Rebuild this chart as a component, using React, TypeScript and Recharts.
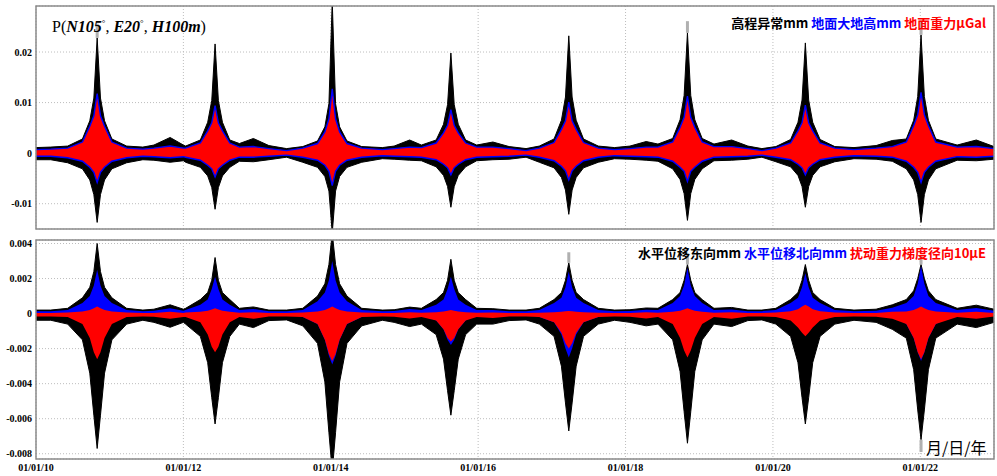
import { ComposedChart, Area, XAxis, YAxis, CartesianGrid, ReferenceArea, ReferenceLine } from 'recharts'

// time in days, dense around each peak
const days = [
  10.0, 10.2,
  10.43, 10.63, 10.73, 10.785, 10.83, 10.875, 10.93, 11.03, 11.23,
  11.45, 11.6, 11.82, 12.0,
  12.03, 12.23, 12.33, 12.385, 12.43, 12.475, 12.53, 12.63,
  12.76, 12.95, 13.16, 13.4,
  13.62, 13.82, 13.92, 13.975, 14.02, 14.065, 14.12, 14.22, 14.42,
  14.7, 14.86, 15.07, 15.23,
  15.43, 15.53, 15.585, 15.63, 15.675, 15.73, 15.83,
  15.98, 16.2, 16.42, 16.65,
  16.83, 17.03, 17.13, 17.185, 17.23, 17.275, 17.33, 17.43, 17.63,
  17.85, 18.06, 18.28, 18.44,
  18.64, 18.74, 18.795, 18.84, 18.885, 18.94, 19.04,
  19.2, 19.44, 19.66, 19.85,
  20.04, 20.24, 20.34, 20.395, 20.44, 20.485, 20.54, 20.64, 20.84,
  21.1, 21.4, 21.62,
  21.81, 21.91, 21.965, 22.01, 22.055, 22.11, 22.21,
  22.5, 22.76, 23.0
]

// upper panel: 高程异常 (black envelope)
const topBlackHi = [
  0.0011, 0.0012,
  0.0014, 0.0028, 0.0064, 0.0109, 0.0228, 0.0109, 0.0064, 0.0028, 0.0014,
  0.0012, 0.0016, 0.0031, 0.0016,
  0.0014, 0.0026, 0.0061, 0.0104, 0.0216, 0.0104, 0.0061, 0.0026,
  0.0019, 0.0029, 0.0015, 0.0009,
  0.0013, 0.0024, 0.0052, 0.0098, 0.0300, 0.0098, 0.0052, 0.0024, 0.0013,
  0.0011, 0.0014, 0.0026, 0.0016,
  0.0026, 0.0057, 0.0096, 0.0198, 0.0096, 0.0057, 0.0026,
  0.0016, 0.0022, 0.0013, 0.0009,
  0.0014, 0.0028, 0.0065, 0.0111, 0.0232, 0.0111, 0.0065, 0.0028, 0.0014,
  0.0011, 0.0014, 0.0023, 0.0018,
  0.0029, 0.0066, 0.0114, 0.0238, 0.0114, 0.0066, 0.0029,
  0.0018, 0.0026, 0.0014, 0.0009,
  0.0013, 0.0027, 0.0061, 0.0105, 0.0218, 0.0105, 0.0061, 0.0027, 0.0013,
  0.0011, 0.0015, 0.0025,
  0.0028, 0.0065, 0.0112, 0.0234, 0.0112, 0.0065, 0.0028,
  0.0016, 0.0026, 0.0013
]
const topBlackLo = [
  -0.0013, -0.0013,
  -0.0019, -0.0031, -0.0053, -0.0082, -0.0137, -0.0082, -0.0053, -0.0031, -0.0019,
  -0.0013, -0.0014, -0.0018, -0.0015,
  -0.0018, -0.0028, -0.0045, -0.0068, -0.0111, -0.0068, -0.0045, -0.0028,
  -0.0016, -0.0017, -0.0013, -0.0008,
  -0.0018, -0.0028, -0.0046, -0.0075, -0.0158, -0.0075, -0.0046, -0.0028, -0.0018,
  -0.0011, -0.0012, -0.0014, -0.0015,
  -0.0027, -0.0044, -0.0066, -0.0107, -0.0066, -0.0044, -0.0027,
  -0.0015, -0.0013, -0.0012, -0.0008,
  -0.0018, -0.0029, -0.0048, -0.0073, -0.0121, -0.0073, -0.0048, -0.0029, -0.0018,
  -0.0011, -0.0012, -0.0014, -0.0016,
  -0.0031, -0.0052, -0.008, -0.0133, -0.008, -0.0052, -0.0031,
  -0.0015, -0.0014, -0.0012, -0.0008,
  -0.0017, -0.0027, -0.0044, -0.0066, -0.0107, -0.0066, -0.0044, -0.0027, -0.0017,
  -0.0011, -0.0012, -0.0016,
  -0.0031, -0.0053, -0.0082, -0.0137, -0.0082, -0.0053, -0.0031,
  -0.0014, -0.0015, -0.0012
]
// upper panel: 地面重力 (red) outlined by 地面大地高 (blue)
const topRedHi = [
  0.0007, 0.0008,
  0.001, 0.0022, 0.0053, 0.0074, 0.0118, 0.0074, 0.0053, 0.0022, 0.001,
  0.0008, 0.001, 0.0014, 0.001,
  0.001, 0.002, 0.0044, 0.006, 0.0094, 0.006, 0.0044, 0.002,
  0.0012, 0.0013, 0.0009, 0.0005,
  0.001, 0.0019, 0.0042, 0.0068, 0.0127, 0.0068, 0.0042, 0.0019, 0.001,
  0.0007, 0.0009, 0.0012, 0.0011,
  0.002, 0.004, 0.0055, 0.0086, 0.0055, 0.004, 0.002,
  0.0012, 0.0012, 0.0009, 0.0005,
  0.001, 0.0021, 0.0047, 0.0064, 0.0101, 0.0064, 0.0047, 0.0021, 0.001,
  0.0007, 0.0009, 0.0012, 0.0012,
  0.0022, 0.0051, 0.0071, 0.0113, 0.0071, 0.0051, 0.0022,
  0.0013, 0.0013, 0.0009, 0.0005,
  0.001, 0.002, 0.0044, 0.006, 0.0095, 0.006, 0.0044, 0.002, 0.001,
  0.0007, 0.001, 0.0013,
  0.0022, 0.0054, 0.0076, 0.012, 0.0076, 0.0054, 0.0022,
  0.0012, 0.0013, 0.0009
]
const topRedLo = [
  -0.0006, -0.0006,
  -0.0009, -0.0016, -0.0028, -0.0038, -0.0058, -0.0038, -0.0028, -0.0016, -0.0009,
  -0.0006, -0.0007, -0.0009, -0.0007,
  -0.0008, -0.0014, -0.0024, -0.0031, -0.0047, -0.0031, -0.0024, -0.0014,
  -0.0008, -0.0008, -0.0006, -0.0004,
  -0.0008, -0.0014, -0.0024, -0.0036, -0.0064, -0.0036, -0.0024, -0.0014, -0.0008,
  -0.0005, -0.0006, -0.0007, -0.0008,
  -0.0013, -0.0022, -0.0029, -0.0043, -0.0029, -0.0022, -0.0013,
  -0.0008, -0.0007, -0.0006, -0.0004,
  -0.0008, -0.0015, -0.0026, -0.0035, -0.0053, -0.0035, -0.0026, -0.0015, -0.0008,
  -0.0005, -0.0006, -0.0007, -0.0008,
  -0.0016, -0.0028, -0.0036, -0.0056, -0.0036, -0.0028, -0.0016,
  -0.0008, -0.0007, -0.0006, -0.0004,
  -0.0008, -0.0013, -0.0022, -0.0029, -0.0043, -0.0029, -0.0022, -0.0013, -0.0008,
  -0.0005, -0.0006, -0.0008,
  -0.0016, -0.0028, -0.0038, -0.0058, -0.0038, -0.0028, -0.0016,
  -0.0007, -0.0008, -0.0006
]

// lower panel: 水平位移东向 (black)
const botBlackHi = [
  0.0002, 0.0002,
  0.0003, 0.0009, 0.0015, 0.0024, 0.004, 0.0024, 0.0015, 0.0009, 0.0003,
  0.0002, 0.00025, 0.0005, 0.00025,
  0.0003, 0.0008, 0.0012, 0.0019, 0.0032, 0.0019, 0.0012, 0.0008,
  0.0003, 0.00038, 0.0002, 0.0002,
  0.0003, 0.001, 0.0017, 0.0028, 0.0046, 0.0028, 0.0017, 0.001, 0.0003,
  0.0002, 0.00022, 0.00037, 0.0003,
  0.0008, 0.0012, 0.0019, 0.0031, 0.0019, 0.0012, 0.0008,
  0.0003, 0.00028, 0.0002, 0.0002,
  0.0003, 0.0008, 0.0012, 0.0019, 0.0029, 0.0019, 0.0012, 0.0008, 0.0003,
  0.0002, 0.00022, 0.00032, 0.0003,
  0.0008, 0.0012, 0.0019, 0.0028, 0.0019, 0.0012, 0.0008,
  0.0003, 0.00035, 0.0002, 0.0002,
  0.0003, 0.0008, 0.0012, 0.0019, 0.0028, 0.0019, 0.0012, 0.0008, 0.0003,
  0.0002, 0.00025, 0.0005,
  0.0008, 0.0013, 0.002, 0.0028, 0.002, 0.0013, 0.0008,
  0.0003, 0.00048, 0.00025
]
const botBlackLo = [
  -0.00038, -0.00038,
  -0.0006, -0.0015, -0.0034, -0.0058, -0.0077, -0.0058, -0.0034, -0.0015, -0.0006,
  -0.00038, -0.0005, -0.00078, -0.0005,
  -0.0006, -0.0013, -0.0028, -0.0048, -0.0063, -0.0048, -0.0028, -0.0013,
  -0.0006, -0.0008, -0.0004, -0.00036,
  -0.0007, -0.0017, -0.0039, -0.0068, -0.009, -0.0068, -0.0039, -0.0017, -0.0007,
  -0.00038, -0.0005, -0.00074, -0.0006,
  -0.0012, -0.0026, -0.0044, -0.0058, -0.0044, -0.0026, -0.0012,
  -0.0006, -0.0006, -0.0004, -0.00036,
  -0.0006, -0.0013, -0.003, -0.0051, -0.0067, -0.0051, -0.003, -0.0013, -0.0006,
  -0.00038, -0.0005, -0.0007, -0.0006,
  -0.0015, -0.0033, -0.0056, -0.0074, -0.0056, -0.0033, -0.0015,
  -0.0006, -0.00074, -0.0004, -0.00036,
  -0.0006, -0.0013, -0.0028, -0.0048, -0.0063, -0.0048, -0.0028, -0.0013, -0.0006,
  -0.00038, -0.0005, -0.0009,
  -0.0014, -0.0032, -0.0055, -0.0072, -0.0055, -0.0032, -0.0014,
  -0.0006, -0.0008, -0.0005
]
// lower panel: 水平位移北向 (blue)
const botBlueHi = [
  0.00014, 0.00014,
  0.0002, 0.0006, 0.001, 0.0016, 0.0025, 0.0016, 0.001, 0.0006, 0.0002,
  0.00014, 0.00016, 0.0003, 0.00016,
  0.0002, 0.0005, 0.0008, 0.0014, 0.0021, 0.0014, 0.0008, 0.0005,
  0.0002, 0.00026, 0.00014, 0.00014,
  0.0002, 0.0007, 0.0012, 0.0019, 0.003, 0.0019, 0.0012, 0.0007, 0.0002,
  0.00014, 0.00015, 0.00026, 0.0002,
  0.0005, 0.0008, 0.0014, 0.0021, 0.0014, 0.0008, 0.0005,
  0.0002, 0.0002, 0.00014, 0.00014,
  0.0002, 0.0006, 0.0009, 0.0015, 0.0024, 0.0015, 0.0009, 0.0006, 0.0002,
  0.00014, 0.00015, 0.00022, 0.0002,
  0.0006, 0.001, 0.0016, 0.0026, 0.0016, 0.001, 0.0006,
  0.0002, 0.00024, 0.00014, 0.00014,
  0.0002, 0.0006, 0.0009, 0.0015, 0.0023, 0.0015, 0.0009, 0.0006, 0.0002,
  0.00014, 0.00016, 0.00034,
  0.0006, 0.001, 0.0017, 0.0027, 0.0017, 0.001, 0.0006,
  0.0002, 0.00032, 0.00016
]
const botBlueLo = [
  -0.00002, -0.00002,
  -0.00002, -0.00002, -0.00002, -0.00002, -0.00002, -0.00002, -0.00002, -0.00002, -0.00002,
  -0.00002, -0.00002, -0.00002, -0.00002,
  -0.00002, -0.00002, -0.00002, -0.00002, -0.00002, -0.00002, -0.00002, -0.00002,
  -0.00002, -0.00002, -0.00002, -0.00002,
  -0.0002, -0.0006, -0.0015, -0.0024, -0.0029, -0.0024, -0.0015, -0.0006, -0.0002,
  -0.00002, -0.00002, -0.00002, -0.00002,
  -0.0004, -0.0009, -0.0015, -0.0018, -0.0015, -0.0009, -0.0004,
  -0.00002, -0.00002, -0.00002, -0.00002,
  -0.0002, -0.0005, -0.0012, -0.002, -0.0025, -0.002, -0.0012, -0.0005, -0.0002,
  -0.00002, -0.00002, -0.00002, -0.00002,
  -0.00002, -0.00002, -0.00002, -0.00002, -0.00002, -0.00002, -0.00002,
  -0.00002, -0.00002, -0.00002, -0.00002,
  -0.00002, -0.00002, -0.00002, -0.00002, -0.00002, -0.00002, -0.00002, -0.00002, -0.00002,
  -0.00002, -0.00002, -0.00002,
  -0.0006, -0.0014, -0.0022, -0.0027, -0.0022, -0.0014, -0.0006,
  -0.00002, -0.00002, -0.00002
]
// lower panel: 扰动重力梯度径向 (red)
const botRedHi = [
  0.00004, 0.00004,
  0.00006, 0.00012, 0.0002, 0.0003, 0.0004, 0.0003, 0.0002, 0.00012, 0.00006,
  0.00004, 0.00004, 0.0001, 0.00004,
  0.00006, 0.0001, 0.00016, 0.00024, 0.0003, 0.00024, 0.00016, 0.0001,
  0.00005, 0.00008, 0.00004, 0.00004,
  0.00006, 0.00012, 0.0002, 0.0003, 0.0004, 0.0003, 0.0002, 0.00012, 0.00006,
  0.00004, 0.00004, 0.00008, 0.00005,
  0.00008, 0.00012, 0.00016, 0.0002, 0.00016, 0.00012, 0.00008,
  0.00005, 0.00006, 0.00004, 0.00004,
  0.00005, 0.00008, 0.0001, 0.00013, 0.00015, 0.00013, 0.0001, 0.00008, 0.00005,
  0.00004, 0.00004, 0.00007, 0.00005,
  0.0001, 0.00016, 0.00024, 0.0003, 0.00024, 0.00016, 0.0001,
  0.00005, 0.00008, 0.00004, 0.00004,
  0.00006, 0.00014, 0.00025, 0.0004, 0.0005, 0.0004, 0.00025, 0.00014, 0.00006,
  0.00004, 0.00004, 0.0001,
  0.00012, 0.0002, 0.0003, 0.0004, 0.0003, 0.0002, 0.00012,
  0.00005, 0.0001, 0.00004
]
const botRedLo = [
  -0.00016, -0.00016,
  -0.0002, -0.0006, -0.0014, -0.0022, -0.0026, -0.0022, -0.0014, -0.0006, -0.0002,
  -0.00016, -0.00018, -0.0003, -0.0002,
  -0.0002, -0.0005, -0.0012, -0.0019, -0.0022, -0.0019, -0.0012, -0.0005,
  -0.0002, -0.0003, -0.00016, -0.00016,
  -0.0002, -0.0006, -0.0015, -0.0023, -0.0027, -0.0023, -0.0015, -0.0006, -0.0002,
  -0.00016, -0.00018, -0.00028, -0.0002,
  -0.0004, -0.0009, -0.0014, -0.0016, -0.0014, -0.0009, -0.0004,
  -0.0002, -0.00025, -0.00016, -0.00016,
  -0.0002, -0.0005, -0.0011, -0.0017, -0.002, -0.0017, -0.0011, -0.0005, -0.0002,
  -0.00016, -0.00018, -0.00028, -0.0002,
  -0.0006, -0.0014, -0.0021, -0.0025, -0.0021, -0.0014, -0.0006,
  -0.0002, -0.0003, -0.00016, -0.00016,
  -0.0002, -0.0004, -0.0008, -0.0011, -0.0013, -0.0011, -0.0008, -0.0004, -0.0002,
  -0.00016, -0.00018, -0.0003,
  -0.0006, -0.0014, -0.0022, -0.0026, -0.0022, -0.0014, -0.0006,
  -0.0002, -0.0003, -0.00016
]

// light grey needle tips above some peaks
const topTips = [
  { day: 10.83, from: 0.0228, to: 0.0256 },
  { day: 18.84, from: 0.0238, to: 0.0261 },
  { day: 22.01, from: 0.0234, to: 0.0262 }
]
const botTips = [
  { day: 17.23, from: 0.0029, to: 0.0035 },
  { day: 18.84, from: 0.0028, to: 0.0034 },
  { day: 22.01, from: 0.0028, to: 0.0033 },
  { day: 22.01, from: -0.0072, to: -0.0079 }
]

const xTicks = [10, 12, 14, 16, 18, 20, 22]
const xTickLabels = ['01/01/10', '01/01/12', '01/01/14', '01/01/16', '01/01/18', '01/01/20', '01/01/22']
const topTicks = [-0.01, 0, 0.01, 0.02]
const topTickLabels = ['-0.01', '0', '0.01', '0.02']
const botTicks = [-0.008, -0.006, -0.004, -0.002, 0, 0.002, 0.004]
const botTickLabels = ['-0.008', '-0.006', '-0.004', '-0.002', '0', '0.002', '0.004']

const topDomain = [-0.015, 0.0291]
const botDomain = [-0.0083, 0.0042]

const topRows = days.map((day, i) => ({
  day,
  black: [topBlackLo[i], topBlackHi[i]],
  red: [topRedLo[i], topRedHi[i]]
}))
const botRows = days.map((day, i) => ({
  day,
  black: [botBlackLo[i], botBlackHi[i]],
  blue: [botBlueLo[i], botBlueHi[i]],
  red: [botRedLo[i], botRedHi[i]]
}))

const tickFont = { fontSize: 10, fill: '#000', fontWeight: 'bold', fontFamily: 'Liberation Serif' }
const cjk = '"Noto Sans CJK SC", "Noto Sans", sans-serif'

export default function App () {
  return (
    <div style={{ position: 'absolute', left: 0, top: 0, width: 997, height: 476, background: '#fff', overflow: 'hidden' }}>
      <div style={{ position: 'absolute', left: 0, top: 0 }}>
        <ComposedChart width={997} height={232} data={topRows} margin={{ top: 6, right: 3, bottom: 3, left: 0 }}>
          <CartesianGrid stroke="#bdbdbd" strokeDasharray="1 2" />
          <XAxis dataKey="day" type="number" domain={[10, 23]} ticks={xTicks} hide allowDataOverflow />
          <YAxis
            type="number"
            domain={topDomain}
            ticks={topTicks}
            tickFormatter={(v) => topTickLabels[topTicks.indexOf(v)]}
            width={36}
            tickSize={0}
            tickMargin={4}
            axisLine={false}
            tick={tickFont}
            allowDataOverflow
          />
          <Area dataKey="black" type="linear" fill="#000" fillOpacity={1} stroke="#000" strokeWidth={1} dot={false} activeDot={false} isAnimationActive={false} />
          <Area dataKey="red" type="linear" fill="#ff0000" fillOpacity={1} stroke="#0000ff" strokeWidth={1.4} dot={false} activeDot={false} isAnimationActive={false} />
          {topTips.map((t, i) => (
            <ReferenceLine key={i} segment={[{ x: t.day, y: t.from }, { x: t.day, y: t.to }]} stroke="#b0b0b0" strokeWidth={3} />
          ))}
          <ReferenceArea x1={10} x2={23} y1={topDomain[0]} y2={topDomain[1]} fill="none" stroke="#8a8a8a" strokeWidth={1.5} />
        </ComposedChart>
      </div>
      <div style={{ position: 'absolute', left: 0, top: 232 }}>
        <ComposedChart width={997} height={244} data={botRows} margin={{ top: 8, right: 3, bottom: 0, left: 0 }}>
          <CartesianGrid stroke="#bdbdbd" strokeDasharray="1 2" />
          <XAxis
            dataKey="day"
            type="number"
            domain={[10, 23]}
            ticks={xTicks}
            tickFormatter={(v) => xTickLabels[xTicks.indexOf(v)]}
            height={17}
            tickSize={0}
            tickMargin={5}
            axisLine={false}
            tick={tickFont}
            interval={0}
            allowDataOverflow
          />
          <YAxis
            type="number"
            domain={botDomain}
            ticks={botTicks}
            tickFormatter={(v) => botTickLabels[botTicks.indexOf(v)]}
            width={36}
            tickSize={0}
            tickMargin={4}
            axisLine={false}
            tick={tickFont}
            interval={0}
            allowDataOverflow
          />
          <Area dataKey="black" type="linear" fill="#000" fillOpacity={1} stroke="#000" strokeWidth={1} dot={false} activeDot={false} isAnimationActive={false} />
          <Area dataKey="blue" type="linear" fill="#0000ff" fillOpacity={1} stroke="none" dot={false} activeDot={false} isAnimationActive={false} />
          <Area dataKey="red" type="linear" fill="#ff0000" fillOpacity={1} stroke="none" dot={false} activeDot={false} isAnimationActive={false} />
          {botTips.map((t, i) => (
            <ReferenceLine key={i} segment={[{ x: t.day, y: t.from }, { x: t.day, y: t.to }]} stroke="#b0b0b0" strokeWidth={3} />
          ))}
          <ReferenceArea x1={10} x2={23} y1={botDomain[0]} y2={botDomain[1]} fill="none" stroke="#8a8a8a" strokeWidth={1.5} />
        </ComposedChart>
      </div>

      <div style={{ position: 'absolute', left: 52, top: 13, fontFamily: 'Liberation Serif', fontSize: 16, lineHeight: '20px', color: '#000', whiteSpace: 'nowrap' }}>
        P(<b><i>N105</i></b><sup style={{ fontSize: 9 }}>°</sup>, <b><i>E20</i></b><sup style={{ fontSize: 9 }}>°</sup>, <b><i>H100m</i></b>)
      </div>
      <div style={{ position: 'absolute', right: 11, top: 15, fontFamily: cjk, fontSize: 13, fontWeight: 'bold', lineHeight: '16px', whiteSpace: 'nowrap' }}>
        <span style={{ color: '#000' }}>高程异常mm</span>{' '}
        <span style={{ color: '#0000ff' }}>地面大地高mm</span>{' '}
        <span style={{ color: '#ff0000' }}>地面重力μGal</span>
      </div>
      <div style={{ position: 'absolute', right: 11, top: 245, fontFamily: cjk, fontSize: 13, fontWeight: 'bold', lineHeight: '16px', whiteSpace: 'nowrap' }}>
        <span style={{ color: '#000' }}>水平位移东向mm</span>{' '}
        <span style={{ color: '#0000ff' }}>水平位移北向mm</span>{' '}
        <span style={{ color: '#ff0000' }}>扰动重力梯度径向10μE</span>
      </div>
      <div style={{ position: 'absolute', left: 926, top: 437, fontFamily: cjk, fontSize: 16, lineHeight: '20px', color: '#000', whiteSpace: 'nowrap' }}>
        月/日/年
      </div>
    </div>
  )
}
